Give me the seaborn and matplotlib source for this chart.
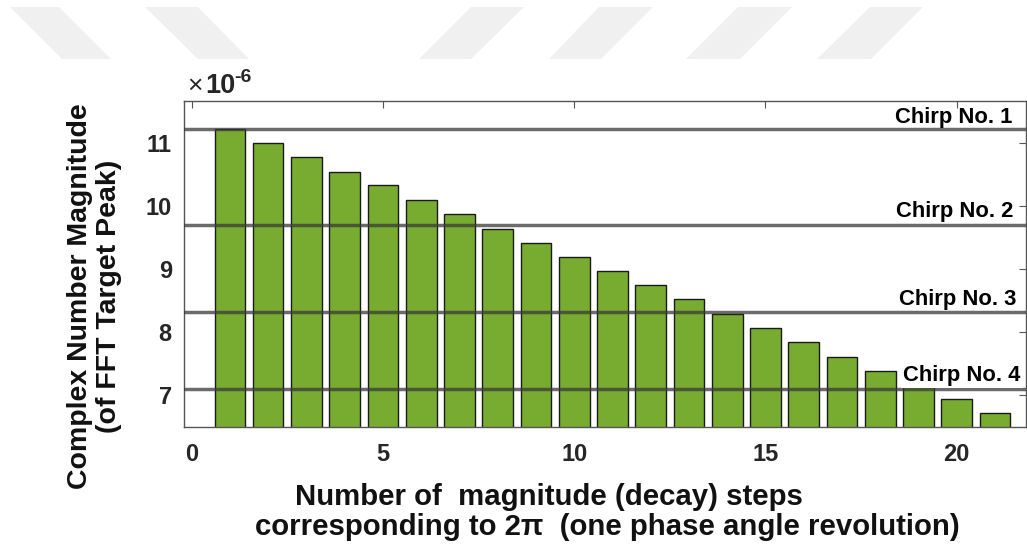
import matplotlib
matplotlib.use("Agg")
import matplotlib.pyplot as plt
from matplotlib.patches import Polygon
import numpy as np
import pandas as pd
import seaborn as sns

# Decay steps and the FFT target-peak magnitude after each step (units of 1e-6)
steps = list(range(1, 22))
magnitude_e6 = [11.22, 11.01, 10.78, 10.545, 10.33, 10.10, 9.87, 9.64, 9.42,
                9.19, 8.965, 8.75, 8.52, 8.29, 8.06, 7.85, 7.61, 7.38, 7.16,
                6.94, 6.71]

# Magnitude level reached by each chirp (units of 1e-6)
chirp_labels = ["Chirp No. 1", "Chirp No. 2", "Chirp No. 3", "Chirp No. 4"]
chirp_levels_e6 = [11.222, 9.694, 8.327, 7.106]

x_ticks = [0, 5, 10, 15, 20]
y_ticks = [7, 8, 9, 10, 11]

df = pd.DataFrame({"step": steps, "magnitude": magnitude_e6})

sns.set_theme(style="white")
plt.rcParams["font.family"] = ["Liberation Sans", "DejaVu Sans"]
plt.rcParams["font.weight"] = "bold"

W, H = 1027, 544
fig = plt.figure(figsize=(W / 100, H / 100), dpi=100)
fig.patch.set_facecolor("white")

# faint diagonal band decoration across the top
band_color = "#f0f0f0"
bands = [
    [(10, 7), (59, 7), (111, 59), (62, 59)],
    [(145, 7), (198, 7), (249, 59), (198, 59)],
    [(471, 7), (524, 7), (471, 59), (419, 59)],
    [(599, 7), (653, 7), (601, 59), (549, 59)],
    [(738, 7), (792, 7), (740, 59), (686, 59)],
    [(870, 7), (923, 7), (871, 59), (817, 59)],
]
for pts in bands:
    fig.patches.append(Polygon([(px / W, 1 - py / H) for px, py in pts],
                               closed=True, transform=fig.transFigure,
                               facecolor=band_color, edgecolor="none", zorder=0))

ax = fig.add_axes([184.3 / W, 1 - 426.7 / H, (1026 - 184.3) / W, (426.7 - 100.7) / H])
ax.set_facecolor("white")

sns.barplot(data=df, x="step", y="magnitude", native_scale=True, width=0.8,
            color="#77AC30", saturation=1, edgecolor="#1a1a1a", linewidth=1.0,
            ax=ax, zorder=2)

for lvl in chirp_levels_e6:
    ax.axhline(lvl, color="#3a3a3a", alpha=0.75, linewidth=2.5, zorder=3)

label_x = [1012, 1013, 1016.7, 1020.7]
label_y = [123, 216.7, 305, 380.7]
for i, (txt, lx, ly) in enumerate(zip(chirp_labels, label_x, label_y)):
    kw = {}
    if i == 3:
        kw["bbox"] = dict(facecolor="white", edgecolor="none", pad=1.5)
    fig.text(lx / W, 1 - ly / H, txt, ha="right", va="baseline",
             fontsize=15.8, fontweight="bold", color="black", zorder=5, **kw)

ax.set_xlim(-0.193, 21.81)
ax.set_ylim(6.5, 11.675)
ax.set_xticks(x_ticks)
ax.set_yticks(y_ticks)
ax.set_xticklabels([str(v) for v in x_ticks])
ax.set_yticklabels([str(v) for v in y_ticks])
ax.tick_params(axis="both", direction="in", length=5, width=0.8, color="#555555",
               labelsize=17, labelcolor="#262626", top=True, right=True)
ax.tick_params(axis="x", pad=12)
ax.tick_params(axis="y", pad=9)
for lab in ax.get_xticklabels() + ax.get_yticklabels():
    lab.set_fontweight("bold")
for sp in ax.spines.values():
    sp.set_visible(True)
    sp.set_color("#555555")
    sp.set_linewidth(1.0)
ax.set_xlabel("")
ax.set_ylabel("")
ax.grid(False)

# exponent marker above the y axis
fig.text(187 / W, 1 - 93 / H, "×", ha="left", va="baseline",
         fontsize=19, fontweight="normal", color="#262626")
fig.text(205 / W, 1 - 93 / H, "10", ha="left", va="baseline",
         fontsize=19.5, fontweight="bold", color="#262626")
fig.text(234 / W, 1 - 82 / H, "-6", ha="left", va="baseline",
         fontsize=14, fontweight="bold", color="#262626")

# axis titles
fig.text(95 / W, 1 - 296 / H, "Complex Number Magnitude\n(of FFT Target Peak)",
         rotation=90, ha="center", va="center", multialignment="center",
         fontsize=20.5, fontweight="bold", color="#111111", linespacing=1.15)
fig.text(295 / W, 1 - 497 / H, "Number of  magnitude (decay) steps",
         ha="left", va="center", fontsize=21.2, fontweight="bold", color="#111111")
fig.text(255 / W, 1 - 527 / H, "corresponding to 2π  (one phase angle revolution)",
         ha="left", va="center", fontsize=21.2, fontweight="bold", color="#111111")

fig.savefig("out.png", dpi=100, facecolor="white")
